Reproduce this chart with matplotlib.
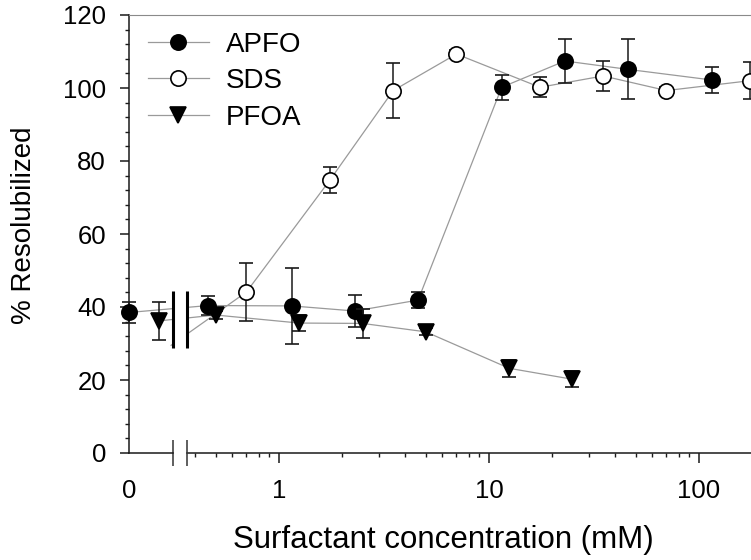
import numpy as np
import matplotlib
matplotlib.use('Agg')
import matplotlib.pyplot as plt
import matplotlib.transforms as mtransforms
from matplotlib.lines import Line2D
from matplotlib.patches import Rectangle
from matplotlib.ticker import MultipleLocator

plt.rcParams['font.family'] = ['Liberation Sans', 'DejaVu Sans']

# surfactant concentration (mM) / % resolubilized / error
apfo_conc = [0, 0.46, 1.15, 2.3, 4.6, 11.5, 23, 46, 115]
apfo_pct = [38.5, 40.4, 40.3, 38.9, 41.9, 100.2, 107.4, 105.1, 102.2]
apfo_err = [2.8, 2.5, 10.4, 4.5, 2.2, 3.4, 6.0, 8.2, 3.5]

# first SDS point sits under the axis break, only its line shows
sds_conc = [0.35, 0.7, 1.75, 3.5, 7, 17.5, 35, 70, 175]
sds_pct = [29.5, 44.1, 74.8, 99.3, 109.3, 100.2, 103.3, 99.3, 102.0]
sds_err = [0, 8.0, 3.6, 7.6, 1.0, 2.7, 4.0, 1.0, 5.0]

pfoa_conc = [0.25, 0.5, 1.25, 2.5, 5, 12.5, 25]
pfoa_pct = [36.2, 37.8, 35.6, 35.5, 33.2, 23.2, 20.2]
pfoa_err = [5.2, 1.0, 2.2, 4.0, 1.0, 2.3, 2.2]

x_ticks = [0, 1, 10, 100]
x_ticklabels = ['0', '1', '10', '100']
y_ticks = [0, 20, 40, 60, 80, 100, 120]

X_MAX = 177
X_BREAK = 0.365   # log part starts here
U_ZERO = -0.714   # where 0 sits, in decades
K_LIN = 0.573     # decades per mM left of the break
U_GAP = U_ZERO + K_LIN * X_BREAK


def forward(x):
    x = np.asarray(x, dtype=float)
    return np.where(x < X_BREAK, U_ZERO + K_LIN * x,
                    np.log10(np.maximum(x, X_BREAK)))


def inverse(u):
    u = np.asarray(u, dtype=float)
    lin = (u - U_ZERO) / K_LIN
    lg = 10 ** np.minimum(u, 300)
    return np.where(u < U_GAP, lin, np.where(u < np.log10(X_BREAK), X_BREAK, lg))


LINE = '#9a9a9a'
DARK = '#1a1a1a'

fig = plt.figure(figsize=(7.51, 5.6), dpi=100)
ax = fig.add_axes([129 / 751, 107 / 560, 622 / 751, 438 / 560])
ax.set_xscale('function', functions=(forward, inverse))

series = [
    ('APFO', apfo_conc, apfo_pct, apfo_err, 'o', 'k', 0),
    ('SDS', sds_conc, sds_pct, sds_err, 'o', 'white', 1),
    ('PFOA', pfoa_conc, pfoa_pct, pfoa_err, 'v', 'k', 0),
]

handles = []
for i, (name, conc, pct, err, marker, face, skip) in enumerate(series):
    ax.plot(conc, pct, color=LINE, lw=0.9, zorder=2, clip_on=False)
    eb = ax.errorbar(conc[skip:], pct[skip:], yerr=err[skip:], fmt=marker,
                     ms=11, mfc=face, mec='k', mew=1.2, ecolor=DARK,
                     elinewidth=1.1, capsize=4.7, capthick=1.1, zorder=3 + 0.2 * i)
    for art in eb.get_children():
        art.set_clip_on(False)
    handles.append(Line2D([], [], color=LINE, lw=0.9, marker=marker, ms=11,
                          mfc=face, mec='k', mew=1.2, label=name))

ax.set_xlim(0, X_MAX)
ax.set_ylim(0, 120)

# axis break
u_span = forward(X_MAX) - U_ZERO
left_f = (U_GAP - U_ZERO) / u_span
right_f = (np.log10(X_BREAK) - U_ZERO) / u_span
blend = mtransforms.blended_transform_factory(ax.transAxes, ax.transData)
ax.add_patch(Rectangle((left_f, 28.8), right_f - left_f, 15.6, transform=blend,
                       fc='white', ec='none', zorder=6))
ax.vlines([left_f, right_f], 28.8, 44.4, transform=blend, colors='k', lw=2.2, zorder=7)
ax.vlines([left_f, right_f], -0.03, 0.03, transform=ax.transAxes, colors='#333333',
          lw=1.1, clip_on=False, zorder=7)

ax.spines['bottom'].set_bounds(X_BREAK, X_MAX)
ax.plot([0, left_f], [0, 0], transform=ax.transAxes, color=DARK, lw=1.1,
        clip_on=False, zorder=7)
ax.spines['right'].set_visible(False)
ax.spines['top'].set_color('#8a8a8a')
for side in ('left', 'bottom'):
    ax.spines[side].set_color(DARK)
    ax.spines[side].set_linewidth(1.1)

ax.set_xticks(x_ticks)
ax.set_xticklabels(x_ticklabels)
ax.xaxis.get_major_ticks()[0].tick1line.set_visible(False)
minor = [m * 10.0 ** d for d in (-1, 0, 1, 2) for m in range(2, 10)]
ax.set_xticks([v for v in minor if X_BREAK < v < X_MAX], minor=True)
ax.set_yticks(y_ticks)
ax.yaxis.set_minor_locator(MultipleLocator(4))

ax.tick_params(which='major', direction='out', length=6.5, width=1.1, color=DARK,
               labelsize=18.5, top=False, right=False)
ax.tick_params(axis='y', which='major', pad=10)
ax.tick_params(axis='x', which='major', length=7, pad=12)
ax.tick_params(which='minor', direction='out', length=3, width=1, color=DARK,
               top=False, right=False)

ax.set_xlabel('Surfactant concentration (mM)', fontsize=22.5, va='center')
ax.xaxis.set_label_coords(0.506, -0.199)
ax.set_ylabel('% Resolubilized', fontsize=20, va='center')
ax.yaxis.set_label_coords(-0.169, 0.52)

ax.legend(handles=handles, loc='upper left', bbox_to_anchor=(0.03, 0.962),
          frameon=False, fontsize=20, borderpad=0, borderaxespad=0,
          handlelength=2.2, handletextpad=0.6, labelspacing=0.38)

fig.savefig('out.png', dpi=100)
